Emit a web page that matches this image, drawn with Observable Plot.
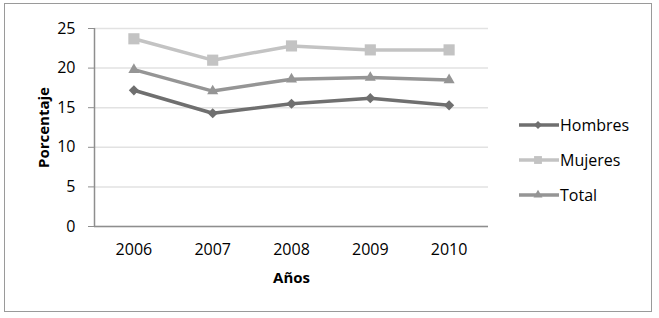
<!DOCTYPE html>
<html>
<head>
<meta charset="utf-8">
<script src="https://cdn.jsdelivr.net/npm/d3@7"></script>
<script src="https://cdn.jsdelivr.net/npm/@observablehq/plot@0.6"></script>
<style>
  html, body { margin: 0; padding: 0; background: #fff; }
  #wrap { position: relative; width: 659px; height: 318px; font-family: "Open Sans", sans-serif; }
  #border { position: absolute; left: 4px; top: 3px; width: 646px; height: 307px; border: 1.5px solid #9a9a9a; pointer-events: none; }
</style>
</head>
<body>
<div id="wrap"><div id="border"></div></div>
<script>
const years = [2006, 2007, 2008, 2009, 2010];
const hombres = [17.2, 14.3, 15.5, 16.2, 15.3];
const mujeres = [23.7, 21.0, 22.8, 22.3, 22.3];
const total = [19.8, 17.1, 18.6, 18.8, 18.5];
const seriesNames = ["Hombres", "Mujeres", "Total"];
const seriesColors = ["#6f6f6f", "#c3c3c3", "#959595"];
const seriesSymbols = ["diamond2", "square2", "triangle2"];
const seriesR = [4.6, 7.1, 5.3];
const legendR = [3.6, 5.0, 4.3];
const yTicks = [0, 5, 10, 15, 20, 25];

const seriesValues = [hombres, mujeres, total];
const data = [];
seriesNames.forEach((name, i) => {
  years.forEach((yr, j) => data.push({serie: name, year: yr, value: seriesValues[i][j]}));
});

const font = "Open Sans, sans-serif";
const marks = [
  Plot.gridY(yTicks, {stroke: "#e2e2e2", strokeOpacity: 1, strokeWidth: 1.5}),
  Plot.ruleY([0], {stroke: "#8e8e8e", strokeWidth: 1.5}),
  Plot.ruleX([2005.5], {stroke: "#8e8e8e", strokeWidth: 1.5}),
  Plot.axisY(yTicks, {tickSize: 6, tickPadding: 13, stroke: "#8e8e8e", fill: "#000", fontSize: 16, label: null}),
  Plot.axisX(years, {tickSize: 0, tickPadding: 17, tickFormat: "d", fill: "#000", fontSize: 16, label: null}),
  Plot.text(["Porcentaje"], {frameAnchor: "left", textAnchor: "middle", rotate: -90, dx: -50, fontWeight: "bold", fontSize: 15, fill: "#000"}),
  Plot.text(["Años"], {frameAnchor: "bottom", lineAnchor: "middle", dy: 52, fontWeight: "bold", fontSize: 15, fill: "#000"})
];
seriesNames.forEach((name, i) => {
  const d = data.filter(e => e.serie === name);
  marks.push(Plot.line(d, {x: "year", y: "value", stroke: seriesColors[i], strokeWidth: 3.5}));
  marks.push(Plot.dot(d, {x: "year", y: "value", symbol: () => seriesSymbols[i], fill: seriesColors[i], r: seriesR[i], stroke: "none"}));
});

const chart = Plot.plot({
  width: 659,
  height: 318,
  marginLeft: 94,
  marginRight: 171,
  marginTop: 28,
  marginBottom: 92,
  style: {fontFamily: font, background: "transparent"},
  x: {domain: [2005.5, 2010.5], axis: null},
  y: {domain: [0, 25], axis: null},
  symbol: {type: "identity"},
  marks
});
const wrap = document.getElementById("wrap");
wrap.insertBefore(chart, wrap.firstChild);

// Legend
const legendY = [125, 160, 195];
const lg = d3.select(wrap).append("svg").attr("width", 659).attr("height", 318)
  .style("position", "absolute").style("left", "0").style("top", "0");
const symMap = {diamond2: d3.symbolDiamond2, square2: d3.symbolSquare2, triangle2: d3.symbolTriangle2};
seriesNames.forEach((name, i) => {
  const g = lg.append("g").attr("transform", `translate(0,${legendY[i]})`);
  g.append("line").attr("x1", 519).attr("x2", 559).attr("y1", 0).attr("y2", 0)
    .attr("stroke", seriesColors[i]).attr("stroke-width", 3.5);
  g.append("path").attr("transform", "translate(538,0)")
    .attr("d", d3.symbol(symMap[seriesSymbols[i]], Math.PI * legendR[i] * legendR[i])())
    .attr("fill", seriesColors[i]);
  g.append("text").attr("x", 560).attr("y", 0).attr("dy", "0.35em")
    .attr("font-family", font).attr("font-size", 16).attr("fill", "#000").text(name);
});
</script>
</body>
</html>
